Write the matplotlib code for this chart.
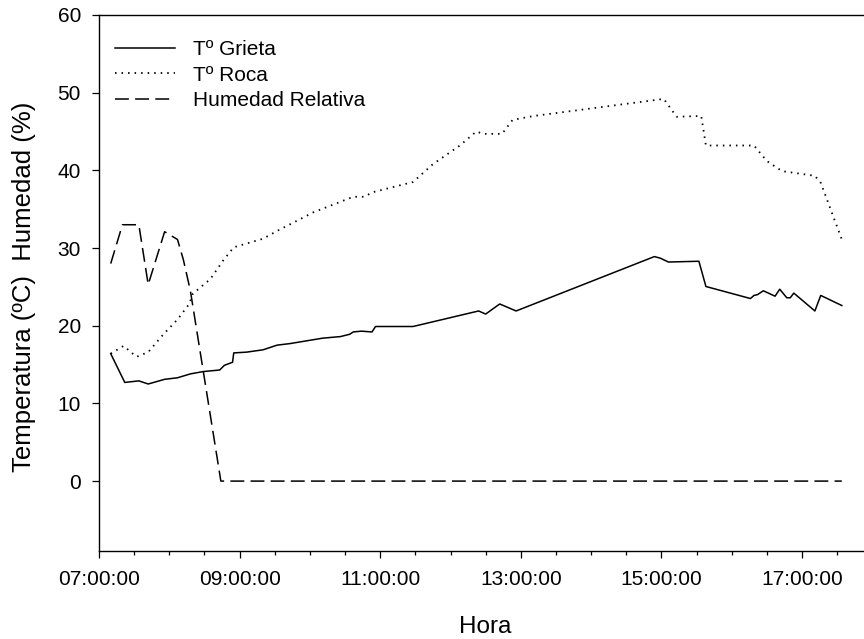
import matplotlib
matplotlib.use("Agg")
import matplotlib.pyplot as plt
from matplotlib.ticker import MultipleLocator, FuncFormatter

plt.rcParams['font.family'] = ['Liberation Sans', 'DejaVu Sans']
plt.rcParams['lines.scale_dashes'] = False

# Hora de medición y valores
grieta_hora = ["07:10", "07:22", "07:34", "07:42", "07:56", "08:07", "08:18", "08:29",
               "08:43", "08:47", "08:54", "08:55", "09:06", "09:20", "09:32", "09:43",
               "09:57", "10:11", "10:26", "10:34", "10:37", "10:44", "10:53", "10:56",
               "11:28", "12:24", "12:30", "12:42", "12:56", "14:54", "14:59", "15:06",
               "15:32", "15:38", "16:16", "16:19", "16:22", "16:27", "16:37", "16:41",
               "16:47", "16:50", "16:53", "17:11", "17:16", "17:34"]
grieta_temp = [16.4, 12.7, 12.9, 12.5, 13.1, 13.3, 13.8, 14.1,
               14.3, 14.9, 15.3, 16.5, 16.6, 16.9, 17.5, 17.7,
               18.05, 18.4, 18.6, 18.9, 19.2, 19.3, 19.2, 19.9,
               19.9, 21.9, 21.5, 22.8, 21.9, 28.9, 28.7, 28.2,
               28.3, 25.05, 23.5, 23.9, 24.0, 24.5, 23.8, 24.7,
               23.6, 23.6, 24.2, 21.9, 23.9, 22.6]

roca_hora = ["07:10", "07:21", "07:32", "07:42", "07:55", "08:07", "08:17", "08:20",
             "08:35", "08:46", "08:55", "09:20", "09:32", "10:03", "10:37", "10:46",
             "10:54", "11:28", "11:45", "12:08", "12:22", "12:28", "12:44", "12:53",
             "13:11", "15:02", "15:13", "15:34", "15:38", "16:19", "16:30", "16:43",
             "17:11", "17:16", "17:34"]
roca_temp = [16.4, 17.4, 16.0, 16.6, 18.9, 20.8, 22.8, 24.1,
             26.0, 28.4, 30.1, 31.2, 32.2, 34.6, 36.6, 36.6,
             37.2, 38.5, 40.8, 43.2, 45.0, 44.7, 44.7, 46.5,
             47.0, 49.2, 46.9, 47.0, 43.2, 43.2, 41.2, 39.9,
             39.3, 38.4, 31.1]

hum_hora = ["07:10", "07:20", "07:34", "07:42", "07:56", "08:07", "08:12", "08:18",
            "08:44", "17:34"]
hum_val = [28.0, 33.0, 33.0, 25.3, 32.1, 31.1, 28.5, 24.5, 0.0, 0.0]

horas_tick = [7, 9, 11, 13, 15, 17]


def a_horas(lista):
    out = []
    for h in lista:
        hh, mm = h.split(":")
        out.append(int(hh) + int(mm) / 60.0)
    return out


fig = plt.figure(figsize=(8.64, 6.39), dpi=100)
ax = fig.add_axes([99 / 864, 88 / 639, 765 / 864, 536 / 639])

ax.plot(a_horas(grieta_hora), grieta_temp, color='black', lw=1.1,
        linestyle='-', label='Tº Grieta')
ax.plot(a_horas(roca_hora), roca_temp, color='black', lw=1.3,
        linestyle=(0, (1.1, 3.6)), label='Tº Roca')
ax.plot(a_horas(hum_hora), hum_val, color='black', lw=1.1,
        linestyle=(0, (10, 4.5)), label='Humedad Relativa')

ax.set_xlim(7, 7 + 765 / 70.3)
ax.set_ylim(-9, 60)
ax.set_xticks(horas_tick)
ax.xaxis.set_minor_locator(MultipleLocator(0.5))
ax.xaxis.set_major_formatter(FuncFormatter(lambda v, p: "%02d:00:00" % round(v)))
ax.set_yticks(range(0, 61, 10))

ax.spines['right'].set_visible(False)
for s in ['left', 'top', 'bottom']:
    ax.spines[s].set_linewidth(1.0)

ax.tick_params(axis='both', which='major', direction='out', length=5, width=0.9,
               labelsize=15)
ax.tick_params(axis='x', which='major', pad=8.5)
ax.tick_params(axis='y', which='major', pad=8)
ax.tick_params(axis='x', which='minor', direction='out', length=3, width=0.9)

ax.set_xlabel('Hora', fontsize=17.5)
ax.xaxis.set_label_coords((485 - 99) / 765, (551 - 633) / 536)
ax.xaxis.label.set_va('baseline')
ax.set_ylabel('Temperatura (ºC)  Humedad (%)', fontsize=18.5)
ax.yaxis.set_label_coords((24 - 99) / 765, (551 - 287) / 536)
ax.yaxis.label.set_va('center')

ax.legend(loc='upper left', bbox_to_anchor=((115 - 99) / 765, (551 - 40) / 536),
          frameon=False, borderaxespad=0, borderpad=0, fontsize=15,
          handlelength=2.9, handletextpad=0.85, labelspacing=0.32)

fig.savefig('out.png', dpi=100)
